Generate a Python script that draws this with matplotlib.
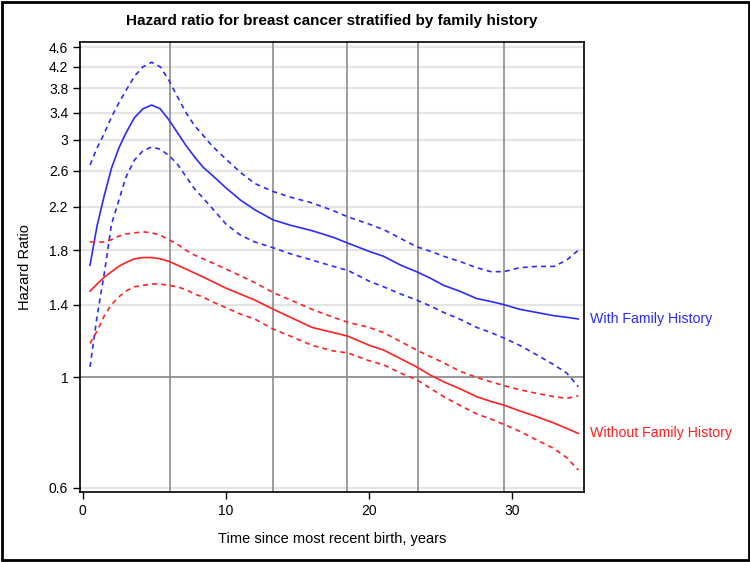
import numpy as np
import matplotlib.pyplot as plt
from matplotlib.patches import Rectangle

plt.rcParams['font.family'] = ['Liberation Sans', 'DejaVu Sans']

# tiempo desde el ultimo parto (anos)
tiempo = [0.5, 1.0, 1.5, 2.0, 2.5, 3.0, 3.6, 4.2, 4.8, 5.4,
          6.0, 6.6, 7.2, 7.8, 8.4, 9.0, 10.0, 11.0, 12.0, 13.3,
          14.5, 16.0, 17.5, 18.5, 20.0, 21.0, 22.2, 23.3, 24.3, 25.2,
          26.3, 27.5, 28.5, 29.4, 30.5, 31.7, 32.9, 33.8, 34.6]

# con historia familiar
con_hr = [1.68, 2.02, 2.32, 2.63, 2.88, 3.09, 3.32, 3.46, 3.52, 3.46,
          3.29, 3.10, 2.92, 2.77, 2.64, 2.55, 2.40, 2.27, 2.17, 2.07,
          2.02, 1.97, 1.91, 1.86, 1.79, 1.75, 1.68, 1.63, 1.58, 1.53,
          1.49, 1.44, 1.42, 1.40, 1.37, 1.35, 1.33, 1.32, 1.31]
con_sup = [2.67, 2.89, 3.09, 3.33, 3.55, 3.76, 4.02, 4.20, 4.29, 4.20,
           3.95, 3.66, 3.40, 3.20, 3.06, 2.92, 2.74, 2.58, 2.45, 2.36,
           2.30, 2.24, 2.16, 2.10, 2.03, 1.98, 1.90, 1.83, 1.79, 1.75,
           1.71, 1.66, 1.63, 1.63, 1.66, 1.67, 1.67, 1.72, 1.80]
con_inf = [1.05, 1.33, 1.62, 2.03, 2.26, 2.52, 2.73, 2.85, 2.90, 2.87,
           2.79, 2.68, 2.53, 2.39, 2.29, 2.19, 2.03, 1.93, 1.87, 1.82,
           1.77, 1.72, 1.67, 1.64, 1.56, 1.52, 1.47, 1.43, 1.39, 1.35,
           1.31, 1.26, 1.23, 1.20, 1.16, 1.11, 1.06, 1.02, 0.958]

# sin historia familiar
sin_hr = [1.49, 1.54, 1.59, 1.63, 1.67, 1.70, 1.73, 1.74, 1.74, 1.73,
          1.71, 1.68, 1.65, 1.62, 1.59, 1.56, 1.51, 1.47, 1.43, 1.37,
          1.32, 1.26, 1.23, 1.21, 1.16, 1.135, 1.09, 1.05, 1.01, 0.98,
          0.95, 0.915, 0.895, 0.88, 0.857, 0.834, 0.81, 0.79, 0.772]
sin_sup = [1.87, 1.87, 1.87, 1.89, 1.92, 1.94, 1.95, 1.96, 1.95, 1.93,
           1.89, 1.85, 1.80, 1.76, 1.73, 1.70, 1.65, 1.60, 1.55, 1.48,
           1.43, 1.37, 1.32, 1.29, 1.26, 1.23, 1.18, 1.135, 1.10, 1.07,
           1.03, 1.00, 0.98, 0.963, 0.945, 0.929, 0.915, 0.908, 0.919]
sin_inf = [1.17, 1.24, 1.33, 1.40, 1.45, 1.49, 1.52, 1.53, 1.54, 1.54,
           1.53, 1.52, 1.50, 1.47, 1.45, 1.42, 1.38, 1.34, 1.31, 1.25,
           1.21, 1.16, 1.13, 1.12, 1.08, 1.06, 1.02, 0.99, 0.95, 0.915,
           0.88, 0.845, 0.825, 0.805, 0.78, 0.749, 0.72, 0.69, 0.652]

# lineas verticales de referencia
cortes = [6.1, 13.3, 18.45, 23.4, 29.4]
y_ticks = [0.6, 1, 1.4, 1.8, 2.2, 2.6, 3, 3.4, 3.8, 4.2, 4.6]
x_ticks = [0, 10, 20, 30]

fig = plt.figure(figsize=(7.5, 5.62), dpi=100)
ax = fig.add_axes([80 / 750, 1 - 492 / 562, 504 / 750, 450 / 562])

ax.set_yscale('log')
ax.set_ylim(0.589, 4.71)
ax.set_xlim(-0.2, 35.0)

for t in y_ticks:
    ax.axhline(t, color='#e4e4e4', lw=1.6, zorder=0)
ax.axhline(1, color='#8c8c8c', lw=1.2, zorder=1)
for c in cortes:
    ax.axvline(c, color='#8c8c8c', lw=1.2, zorder=1)

azul = '#2b2bff'
rojo = '#ff2020'
guiones = (3, 2.5)
ax.plot(tiempo, con_hr, color=azul, lw=1.2, zorder=3)
ax.plot(tiempo, con_sup, color=azul, lw=1.2, dashes=guiones, zorder=3)
ax.plot(tiempo, con_inf, color=azul, lw=1.2, dashes=guiones, zorder=3)
ax.plot(tiempo, sin_hr, color=rojo, lw=1.2, zorder=3)
ax.plot(tiempo, sin_sup, color=rojo, lw=1.2, dashes=guiones, zorder=3)
ax.plot(tiempo, sin_inf, color=rojo, lw=1.2, dashes=guiones, zorder=3)

ax.set_yticks(y_ticks)
ax.set_yticklabels([f'{t:g}' for t in y_ticks])
ax.yaxis.set_minor_locator(plt.NullLocator())
ax.set_xticks(x_ticks)
ax.tick_params(axis='both', direction='out', length=5, width=1, labelsize=10, colors='black')

for s in ax.spines.values():
    s.set_linewidth(1.2)

ax.set_title('Hazard ratio for breast cancer stratified by family history',
             fontsize=11, fontweight='bold', pad=12)
ax.set_ylabel('Hazard Ratio', fontsize=10.5, labelpad=12)
ax.set_xlabel('Time since most recent birth, years', fontsize=10.5, labelpad=10)

ax.text(1.012, con_hr[-1], 'With Family History', color=azul, fontsize=10.2,
        va='center', ha='left', transform=ax.get_yaxis_transform())
ax.text(1.012, sin_hr[-1], 'Without Family History', color=rojo, fontsize=10.2,
        va='center', ha='left', transform=ax.get_yaxis_transform())

fig.patches.append(Rectangle((0.002, 0.003), 0.996, 0.994, transform=fig.transFigure,
                             fill=False, edgecolor='black', lw=2))

fig.savefig('out.png', dpi=100)
